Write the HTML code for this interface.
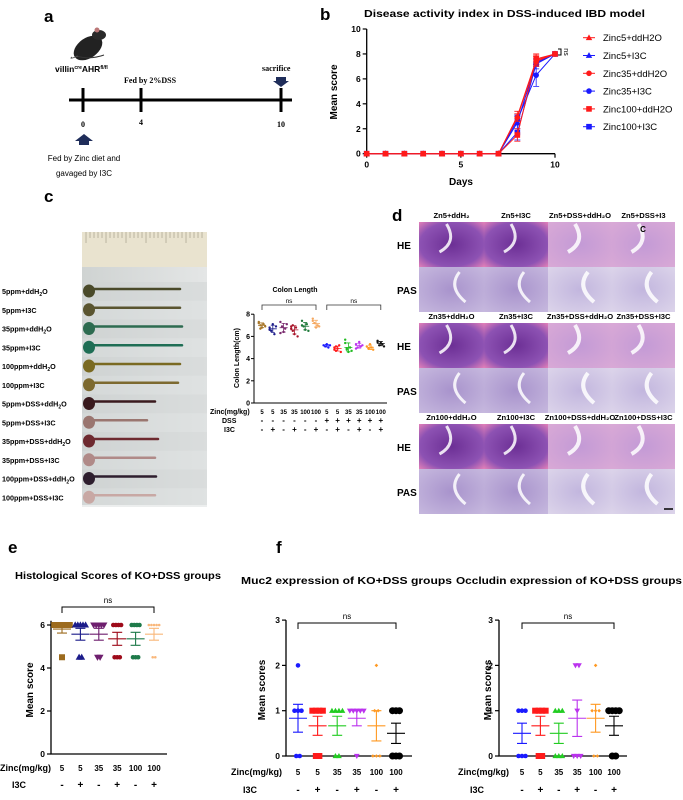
<!DOCTYPE html>
<html><head><meta charset="utf-8"><style>
html,body{margin:0;padding:0;background:#fff;}
svg{display:block;font-family:"Liberation Sans",Arial,sans-serif;}
.b{font-weight:bold;}
</style></head><body>
<svg id="fig" width="683" height="800" viewBox="0 0 683 800" xmlns="http://www.w3.org/2000/svg">
<defs>
<linearGradient id="photoBg" x1="0" y1="0" x2="1" y2="0"><stop offset="0" stop-color="#cfd3d2"/><stop offset="1" stop-color="#e4e6e6"/></linearGradient>
<radialGradient id="heH" cx="0.5" cy="0.5" r="0.7"><stop offset="0" stop-color="#6c2f95"/><stop offset="0.7" stop-color="#8d52b3"/><stop offset="1" stop-color="#e07fb8"/></radialGradient>
<radialGradient id="heD" cx="0.5" cy="0.5" r="0.7"><stop offset="0" stop-color="#c39ad6"/><stop offset="1" stop-color="#d9a9d6"/></radialGradient>
<radialGradient id="pasH" cx="0.5" cy="0.5" r="0.7"><stop offset="0" stop-color="#a893cc"/><stop offset="1" stop-color="#c6b8de"/></radialGradient>
<radialGradient id="pasD" cx="0.5" cy="0.5" r="0.7"><stop offset="0" stop-color="#c2b6de"/><stop offset="1" stop-color="#dcd4ea"/></radialGradient>
</defs>

<g>
<text x="44" y="22" font-size="17" class="b">a</text>
<g>
<ellipse cx="88" cy="48" rx="16" ry="10" fill="#222" transform="rotate(-35 88 48)"/>
<ellipse cx="99" cy="35" rx="7" ry="5" fill="#2a2a2a"/>
<ellipse cx="97" cy="30" rx="2.5" ry="2.5" fill="#b77"/>
<path d="M76 56 Q90 60 104 55" stroke="#333" stroke-width="1" fill="none"/>
<path d="M78 56 Q68 60 72 57" stroke="#555" stroke-width="0.8" fill="none"/>
</g>
<text x="55" y="72" font-size="8.5" class="b">villin<tspan font-size="5" dy="-3">cre</tspan><tspan dy="3">AHR</tspan><tspan font-size="5" dy="-3">fl/fl</tspan></text>
<line x1="69" y1="100" x2="292" y2="100" stroke="#000" stroke-width="3"/>
<line x1="83" y1="88" x2="83" y2="112" stroke="#000" stroke-width="3"/>
<line x1="141" y1="88" x2="141" y2="112" stroke="#000" stroke-width="3"/>
<line x1="281" y1="88" x2="281" y2="112" stroke="#000" stroke-width="3"/>
<text x="124" y="83" font-size="8" class="b" font-family="Liberation Serif,serif">Fed by 2%DSS</text>
<text x="262" y="71" font-size="8" class="b" font-family="Liberation Serif,serif">sacrifice</text>
<polygon points="276,77 286,77 286,81 289,81 281,87 273,81 276,81" fill="#1f2d5a"/>
<text x="83" y="127" font-size="8" class="b" text-anchor="middle" font-family="Liberation Serif,serif">0</text>
<text x="141" y="125" font-size="8" class="b" text-anchor="middle" font-family="Liberation Serif,serif">4</text>
<text x="281" y="127" font-size="8" class="b" text-anchor="middle" font-family="Liberation Serif,serif">10</text>
<polygon points="84,134 93,141 89,141 89,145 79,145 79,141 75,141" fill="#1f2d5a"/>
<text x="84" y="161" font-size="8" text-anchor="middle">Fed by Zinc diet and</text>
<text x="84" y="176" font-size="8" text-anchor="middle">gavaged by I3C</text>
</g>

<text x="320" y="20" font-size="17" class="b">b</text>
<text x="364" y="17" font-size="10.5" class="b" textLength="281" lengthAdjust="spacingAndGlyphs">Disease activity index in DSS-induced IBD model</text>
<g id="chartB"></g>

<text x="44" y="202" font-size="17" class="b">c</text>
<g id="photo">
<rect x="82" y="232" width="125" height="273" fill="url(#photoBg)"/>
<rect x="82" y="232" width="125" height="35" fill="#e9e3cf"/>
</g>
<g id="chartC"></g>

<text x="392" y="221" font-size="17" class="b">d</text>
<g id="histo"></g>

<text x="8" y="553" font-size="17" class="b">e</text>
<text x="276" y="553" font-size="17" class="b">f</text>
<text x="15" y="579" font-size="10" class="b" textLength="206" lengthAdjust="spacingAndGlyphs">Histological Scores of KO+DSS groups</text>
<text x="241" y="584" font-size="10" class="b" textLength="211" lengthAdjust="spacingAndGlyphs">Muc2 expression of KO+DSS groups</text>
<text x="456" y="584" font-size="10" class="b" textLength="226" lengthAdjust="spacingAndGlyphs">Occludin expression of KO+DSS groups</text>
<g id="chartE"></g>
<g id="chartM"></g>
<g id="chartO"></g>
</svg>

<script>
const bDays=[0,1,2,3,4,5,6,7,8,9,10];
const bZinc5Water=[0,0,0,0,0,0,0,0,3.0,7.5,8];
const bZinc5I3C=[0,0,0,0,0,0,0,0,2.5,7.3,8];
const bZinc35Water=[0,0,0,0,0,0,0,0,2.9,7.4,8];
const bZinc35I3C=[0,0,0,0,0,0,0,0,2.7,6.3,8];
const bZinc100Water=[0,0,0,0,0,0,0,0,1.5,7.6,8];
const bZinc100I3C=[0,0,0,0,0,0,0,0,1.7,7.2,8];
const bErrDay8=[0.4,0.5,0.3,0.4,0.5,0.6];
const bErrDay9=[0.4,0.3,0.4,0.9,0.4,0.4];
const bSeriesNames=['Zinc5+ddH2O','Zinc5+I3C','Zinc35+ddH2O','Zinc35+I3C','Zinc100+ddH2O','Zinc100+I3C'];
const bTicksY=[0,2,4,6,8,10];
const bTicksX=[0,5,10];

const cZinc=['5','5','35','35','100','100','5','5','35','35','100','100'];
const cDSS=['-','-','-','-','-','-','+','+','+','+','+','+'];
const cI3C=['-','+','-','+','-','+','-','+','-','+','-','+'];
const cG1=[7.2,7.0,6.8,7.1,6.9,7.3,6.7];
const cG2=[6.8,6.5,7.1,6.2,6.9,6.6];
const cG3=[7.3,6.9,6.4,6.7,7.1,6.3];
const cG4=[6.9,6.5,6.2,6.8,6.0,6.7,7.0];
const cG5=[7.4,6.9,6.6,7.1,6.5,7.0];
const cG6=[7.6,7.2,6.8,7.0,6.9,7.4];
const cG7=[5.2,5.1,5.3,5.0,5.2];
const cG8=[5.0,4.7,4.9,5.2,4.6,4.8,5.1];
const cG9=[5.4,4.8,4.6,5.0,4.7,5.7,4.9];
const cG10=[5.3,5.0,5.5,5.1,5.2,4.9];
const cG11=[5.1,4.9,5.3,5.0,4.8];
const cG12=[5.5,5.2,5.4,5.3,5.1,5.6];
const cTicksY=[0,2,4,6,8];

const eZinc=['5','5','35','35','100','100'];
const eI3C=['-','+','-','+','-','+'];
const eG1=[6,6,6,6,6,6,6,4.5];
const eG2=[6,6,6,6,6,4.5,4.5];
const eG3=[6,6,6,6,6,4.5,4.5];
const eG4=[6,6,6,6,4.5,4.5,4.5];
const eG5=[6,6,6,6,4.5,4.5,4.5];
const eG6=[6,6,6,6,6,4.5,4.5];
const eTicksY=[0,2,4,6];

const mG1=[2,1,1,1,0,0];
const mG2=[1,1,1,1,0,0];
const mG3=[1,1,1,1,0,0];
const mG4=[1,1,1,1,1,0];
const mG5=[2,1,1,0,0,0];
const mG6=[1,1,1,0,0,0];
const oG1=[1,1,1,0,0,0];
const oG2=[1,1,1,1,0,0];
const oG3=[1,1,1,0,0,0];
const oG4=[2,2,1,0,0,0];
const oG5=[2,1,1,1,0,0];
const oG6=[1,1,1,1,0,0];
const fTicksY=[0,1,2,3];

const NS='http://www.w3.org/2000/svg';
function mk(tag,attrs,parent){const e=document.createElementNS(NS,tag);for(const k in attrs)e.setAttribute(k,attrs[k]);parent.appendChild(e);return e;}
function marker(shape,x,y,s,color,parent){
  let e;
  if(shape==='square') e=mk('rect',{x:x-s,y:y-s,width:2*s,height:2*s,fill:color},parent);
  else if(shape==='tri') e=mk('polygon',{points:`${x},${y-s*1.2} ${x-s*1.15},${y+s*0.85} ${x+s*1.15},${y+s*0.85}`,fill:color},parent);
  else if(shape==='dtri') e=mk('polygon',{points:`${x},${y+s*1.2} ${x-s*1.15},${y-s*0.85} ${x+s*1.15},${y-s*0.85}`,fill:color},parent);
  else if(shape==='diamond') e=mk('polygon',{points:`${x},${y-s} ${x+s},${y} ${x},${y+s} ${x-s},${y}`,fill:color},parent);
  else e=mk('circle',{cx:x,cy:y,r:s,fill:color},parent);
  return e;
}
function txt(parent,x,y,str,size,anchor,bold){const t=mk('text',{x:x,y:y,'font-size':size,'text-anchor':anchor||'start'},parent);if(bold)t.setAttribute('font-weight','bold');t.textContent=str;return t;}
function svgRoot(){return document.getElementById('fig');}

(function(){
  const g=document.getElementById('chartB');
  const xB=d=>366.7+d*18.83, yB=v=>153.7-v*12.47;
  const series=[bZinc5I3C,bZinc35I3C,bZinc100I3C,bZinc5Water,bZinc35Water,bZinc100Water];
  const idx=[1,3,5,0,2,4];
  const colors=['#ff1a1a','#1a1aff','#ff1a1a','#1a1aff','#ff1a1a','#1a1aff'];
  const shapes=['tri','tri','circle','circle','square','square'];
  const ax=mk('path',{d:`M${xB(0)} ${yB(10)} V${yB(0)} H${xB(10)}`,stroke:'#000','stroke-width':1.3,fill:'none'},g);
  
  
  bTicksY.forEach(v=>{
    mk('line',{x1:xB(0)-4,y1:yB(v),x2:xB(0),y2:yB(v),stroke:'#000','stroke-width':1.2},g);
    const t=txt(g,xB(0)-6,yB(v)+3,String(v),8.5,'end',true);
    
    
  });
  bTicksX.forEach(v=>{
    mk('line',{x1:xB(v),y1:yB(0),x2:xB(v),y2:yB(0)+4,stroke:'#000','stroke-width':1.2},g);
    const t=txt(g,xB(v),yB(0)+14,String(v),8.5,'middle',true);
    
    
  });
  const xl=txt(g,461,185,'Days',10,'middle',true);
  
  
  const yl=txt(g,0,0,'Mean score',10,'middle',true);
  yl.setAttribute('transform','translate(337,92) rotate(-90)');
  
  
  series.forEach((s,k)=>{
    const i=idx[k];
    const pts=bDays.map((d,j)=>`${xB(d)},${yB(s[j])}`).join(' ');
    const ln=mk('polyline',{points:pts,fill:'none',stroke:colors[i],'stroke-width':1},g);
    
    
    [[8,bErrDay8[i]],[9,bErrDay9[i]]].forEach(([d,e])=>{
      const j=bDays.indexOf(d);
      const eb=mk('path',{d:`M${xB(d)} ${yB(s[j]-e)} V${yB(s[j]+e)} M${xB(d)-3} ${yB(s[j]-e)} h6 M${xB(d)-3} ${yB(s[j]+e)} h6`,stroke:colors[i],'stroke-width':0.8,fill:'none'},g);
      
      
    });
    bDays.forEach((d,j)=>{
      const m=marker(shapes[i],xB(d),yB(s[j]),2.8,colors[i],g);
      
      
    });
  });
  const br=mk('path',{d:`M558 49 h3 v6 h-3`,stroke:'#000','stroke-width':1,fill:'none'},g);
  
  
  const ns=txt(g,0,0,'ns',7,'middle',false);
  ns.setAttribute('transform','translate(564,52) rotate(90)');
  
  
  bSeriesNames.forEach((n,i)=>{
    const y=37.7+i*17.8;
    const l=mk('line',{x1:583,y1:y,x2:595,y2:y,stroke:colors[i],'stroke-width':1},g);
    
    
    const m=marker(shapes[i],589,y,2.8,colors[i],g);
    
    
    const t=txt(g,603,y+3.5,n,9.5,'start',false);
    
    
  });
})();

(function(){
  const g=document.getElementById('photo');
  for(let i=0;i<30;i++){
    const tk=mk('line',{x1:86+i*4,y1:232,x2:86+i*4,y2:(i%5===0)?243:238,stroke:'#8a8470','stroke-width':0.5},g);
    
    
  }
  const labels=[['5ppm+ddH','2','O'],['5ppm+I3C','',''],['35ppm+ddH','2','O'],['35ppm+I3C','',''],['100ppm+ddH','2','O'],['100ppm+I3C','',''],['5ppm+DSS+ddH','2','O'],['5ppm+DSS+I3C','',''],['35ppm+DSS+ddH','2','O'],['35ppm+DSS+I3C','',''],['100ppm+DSS+ddH','2','O'],['100ppm+DSS+I3C','','']];
  const cols=['#4a4a2a','#5a5530','#2d6b50','#1f6e55','#7a6a22','#7d6a30','#3a1a1e','#9a7670','#6e2a30','#b08a88','#2e1e2e','#c8a8a4'];
  const ends=[180,180,182,182,180,178,155,147,158,155,156,155];
  labels.forEach((L,i)=>{
    const y=291+i*18.75;
    const band=mk('rect',{x:82,y:y-9,width:125,height:18.75,fill:(i%2)?'#dadddd':'#d0d4d4','fill-opacity':0.5},g);
    
    
    const body=mk('line',{x1:90,y1:y-2,x2:ends[i],y2:y-2,stroke:cols[i],'stroke-width':2.5,'stroke-linecap':'round'},g);
    
    
    const head=mk('ellipse',{cx:89,cy:y,rx:6,ry:6.5,fill:cols[i]},g);
    
    
    const t=mk('text',{x:2,y:y+3,'font-size':7.2,'font-weight':'bold'},svgRoot());
    t.textContent=L[0];
    if(L[1]){const s=mk('tspan',{'font-size':5,dy:2},t);s.textContent=L[1];const o=mk('tspan',{dy:-2},t);o.textContent=L[2];}
    
    
  });
})();

(function(){
  const g=document.getElementById('chartC');
  const xC=i=>262+i*10.8, yC=v=>403-v*11.1;
  const groups=[cG1,cG2,cG3,cG4,cG5,cG6,cG7,cG8,cG9,cG10,cG11,cG12];
  const colors=['#a8772a','#1c1c8a','#7a2a6e','#a8142a','#1e7a3a','#f5a860','#1a1aff','#ff1a1a','#22bb22','#bb33ee','#ff9922','#111'];
  const t0=txt(g,295,292,'Colon Length',7,'middle',true);
  
  
  const ax=mk('path',{d:`M254 ${yC(8)} V${yC(0)} H387`,stroke:'#000','stroke-width':1,fill:'none'},g);
  
  
  cTicksY.forEach(v=>{
    mk('line',{x1:251,y1:yC(v),x2:254,y2:yC(v),stroke:'#000','stroke-width':1},g);
    const t=txt(g,250,yC(v)+2.5,String(v),7,'end',true);
    
    
  });
  const yl=txt(g,0,0,'Colon Length(cm)',7,'middle',true);
  yl.setAttribute('transform','translate(239,358) rotate(-90)');
  
  
  [[0,5],[6,11]].forEach(([a,b])=>{
    const br=mk('path',{d:`M${xC(a)} 310 V305 H${xC(b)} V310`,stroke:'#333','stroke-width':0.8,fill:'none'},g);
    
    
    const n=txt(g,(xC(a)+xC(b))/2,303,'ns',6.5,'middle',false);
    
    
  });
  groups.forEach((arr,i)=>{
    const mean=arr.reduce((a,b)=>a+b,0)/arr.length;
    arr.forEach((v,k)=>{
      const p=mk('circle',{cx:xC(i)+((k%5)-2)*1.6,cy:yC(v),r:1.2,fill:colors[i]},g);
      
      
    });
    const sd=Math.sqrt(arr.reduce((a,b)=>a+(b-mean)**2,0)/(arr.length-1));
    const m=mk('path',{d:`M${xC(i)-4} ${yC(mean)} h8 M${xC(i)} ${yC(mean-sd)} V${yC(mean+sd)} M${xC(i)-2} ${yC(mean-sd)} h4 M${xC(i)-2} ${yC(mean+sd)} h4`,stroke:colors[i],'stroke-width':0.8,fill:'none'},g);
    
    
    const a=txt(g,xC(i),414,cZinc[i],6,'middle',true);
    
    
    const b=txt(g,xC(i),423,cDSS[i],8,'middle',true);
    
    
    const c=txt(g,xC(i),432,cI3C[i],8,'middle',true);
    
    
  });
  const r1=txt(g,210,414,'Zinc(mg/kg)',7,'start',true);
  
  
  const r2=txt(g,222,423,'DSS',7,'start',true);
  
  
  const r3=txt(g,224,432,'I3C',7,'start',true);
  
  
})();

(function(){
  const g=document.getElementById('histo');
  const colX=[419,484,548,612];
  const heads=[['Zn5+ddH₂','Zn5+I3C','Zn5+DSS+ddH₂O','Zn5+DSS+I3'],['Zn35+ddH₂O','Zn35+I3C','Zn35+DSS+ddH₂O','Zn35+DSS+I3C'],['Zn100+ddH₂O','Zn100+I3C','Zn100+DSS+ddH₂O','Zn100+DSS+I3C']];
  for(let r=0;r<3;r++){
    const top=222+r*101;
    for(let c=0;c<4;c++){
      const w=(c<3?colX[c+1]:675)-colX[c];
      const he=mk('rect',{x:colX[c],y:top,width:w,height:45,fill:c<2?'url(#heH)':'url(#heD)'},g);
      
      
      const pas=mk('rect',{x:colX[c],y:top+45,width:w,height:45,fill:c<2?'url(#pasH)':'url(#pasD)'},g);
      
      
      const cx=colX[c]+w/2;
      const cr=mk('path',{d:`M${cx-5} ${top+2} Q${cx+6} ${top+20} ${cx-12} ${top+30} M${cx+8} ${top+50} Q${cx-4} ${top+65} ${cx+14} ${top+80}`,stroke:'#fff','stroke-width':c<2?3:4,fill:'none','stroke-opacity':0.85},g);
      
      
      const h=txt(g,cx,top-4,heads[r][c],7.6,'middle',true);
      
      
    }
    const l1=txt(g,397,top+27,'HE',10,'start',true);
    
    
    const l2=txt(g,397,top+72,'PAS',10,'start',true);
    
    
  }
  const cc=txt(g,643,232,'C',8,'middle',true);
  
  
  const sb=mk('line',{x1:664,y1:509,x2:673,y2:509,stroke:'#000','stroke-width':1.5},g);
  
  
})();

function scatterChart(gid,groups,opts){
  const g=document.getElementById(gid);
  const X=i=>opts.x0+i*opts.step, Y=v=>opts.y0-v*opts.unit;
  const ax=mk('path',{d:`M${opts.ax} ${Y(opts.top)} V${Y(0)} H${opts.axEnd}`,stroke:'#000','stroke-width':1.3,fill:'none'},g);
  
  
  opts.ticks.forEach(v=>{
    mk('line',{x1:opts.ax-4,y1:Y(v),x2:opts.ax,y2:Y(v),stroke:'#000','stroke-width':1.2},g);
    const t=txt(g,opts.ax-6,Y(v)+3,String(v),8.5,'end',true);
    
    
  });
  const yl=txt(g,0,0,opts.ylabel,10,'middle',true);
  yl.setAttribute('transform',`translate(${opts.ylx},${opts.yly}) rotate(-90)`);
  
  
  const br=mk('path',{d:`M${X(0)} ${opts.brY+6} V${opts.brY} H${X(5)} V${opts.brY+6}`,stroke:'#000','stroke-width':1,fill:'none'},g);
  
  
  const ns=txt(g,(X(0)+X(5))/2,opts.brY-4,'ns',8,'middle',false);
  
  
  groups.forEach((arr,i)=>{
    const col=opts.colors[i];
    const n=arr.length, mean=arr.reduce((a,b)=>a+b,0)/n;
    const sem=Math.sqrt(arr.reduce((a,b)=>a+(b-mean)**2,0)/(n-1))/Math.sqrt(n);
    const eb=mk('path',{d:`M${X(i)-9} ${Y(mean)} h18 M${X(i)} ${Y(mean-sem)} V${Y(mean+sem)} M${X(i)-5} ${Y(mean-sem)} h10 M${X(i)-5} ${Y(mean+sem)} h10`,stroke:col,'stroke-width':1.1,fill:'none'},g);
    
    
    const vals=[...new Set(arr)];
    vals.forEach(v=>{
      const cnt=arr.filter(a=>a===v).length;
      for(let k=0;k<cnt;k++){
        const m=marker(opts.shapes[i],X(i)+(k-(cnt-1)/2)*opts.spread,Y(v),opts.ms[i],col,g);
        
        
      }
    });
    const a=txt(g,X(i),opts.zy,opts.zinc[i],8,'middle',true);
    
    
    const b=txt(g,X(i),opts.iy,opts.i3c[i],10,'middle',true);
    
    
  });
  const r1=txt(g,opts.zx,opts.zy,'Zinc(mg/kg)',9,'start',true);
  
  
  const r2=txt(g,opts.zx+12,opts.iy,'I3C',9,'start',true);
  
  
}
scatterChart('chartE',[eG1,eG2,eG3,eG4,eG5,eG6],{x0:62,step:18.4,y0:754,unit:21.5,top:6.2,ax:51,axEnd:167,ticks:eTicksY,ylabel:'Mean score',ylx:33,yly:690,brY:607,
  colors:['#9c6b1e','#1c1c8a','#6e1f6e','#9e0b1a','#1e7a4a','#f9b77a'],shapes:['square','tri','dtri','circle','circle','circle'],ms:[3,3,3,2.3,2.3,1.3],spread:2.6,
  zinc:eZinc,i3c:eI3C,zx:0,zy:771,iy:788});
scatterChart('chartM',[mG1,mG2,mG3,mG4,mG5,mG6],{x0:298,step:19.6,y0:756,unit:45.3,top:3,ax:286,axEnd:412,ticks:fTicksY,ylabel:'Mean scores',ylx:265,yly:690,brY:623,
  colors:['#1a1aff','#ff1a1a','#22cc22','#bb33ee','#ff9922','#000'],shapes:['circle','square','tri','dtri','diamond','circle'],ms:[2.3,3,2.5,2.5,1.8,3.5],spread:3.5,
  zinc:eZinc,i3c:eI3C,zx:231,zy:775,iy:793});
scatterChart('chartO',[oG1,oG2,oG3,oG4,oG5,oG6],{x0:522,step:18.4,y0:756,unit:45.3,top:3,ax:499,axEnd:627,ticks:fTicksY,ylabel:'Mean scores',ylx:491,yly:690,brY:623,
  colors:['#1a1aff','#ff1a1a','#22cc22','#bb33ee','#ff9922','#000'],shapes:['circle','square','tri','dtri','diamond','circle'],ms:[2.3,3,2.5,2.5,1.8,3.5],spread:3.5,
  zinc:eZinc,i3c:eI3C,zx:458,zy:775,iy:793});
</script>
</body></html>
